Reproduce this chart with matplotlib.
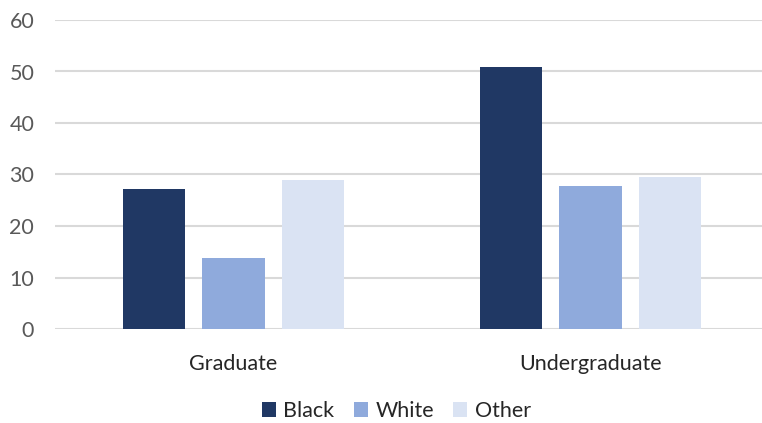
import matplotlib.pyplot as plt
import numpy as np

categories = ["Graduate", "Undergraduate"]
series = ["Black", "White", "Other"]
black = [27.2, 50.8]
white = [13.8, 27.8]
other = [28.9, 29.6]
colors = ["#203864", "#8FAADC", "#DAE3F3"]

plt.rcParams['font.family'] = ['Lato', 'DejaVu Sans']

fig = plt.figure(figsize=(7.62, 4.23), dpi=100)
ax = fig.add_axes([55 / 762, 94 / 423, 714 / 762, 309 / 423])

x = np.arange(len(categories))
step = 0.2227
width = 0.1737
for i, (name, vals) in enumerate(zip(series, [black, white, other])):
    ax.bar(x + (i - 1) * step, vals, width, color=colors[i], label=name, zorder=3)

ax.set_xlim(-0.5, 1.5)
ax.set_ylim(0, 60)
ax.set_yticks(range(0, 61, 10))
ax.set_xticks(x)
ax.set_xticklabels(categories)
ax.grid(axis='y', color='#D9D9D9', linewidth=1.5, zorder=0)
for s in ax.spines.values():
    s.set_visible(False)
ax.tick_params(axis='y', length=0, pad=15, labelsize=15.5, labelcolor='#595959')
ax.tick_params(axis='x', length=0, pad=18, labelsize=15.5, labelcolor='#262626')

fig.legend(loc='center', bbox_to_anchor=(0.52, 0.028), ncol=3, frameon=False,
           fontsize=15.5, handlelength=0.65, handleheight=0.65, handletextpad=0.35,
           columnspacing=0.9, labelcolor='#262626')

fig.savefig("out.png", dpi=100)
